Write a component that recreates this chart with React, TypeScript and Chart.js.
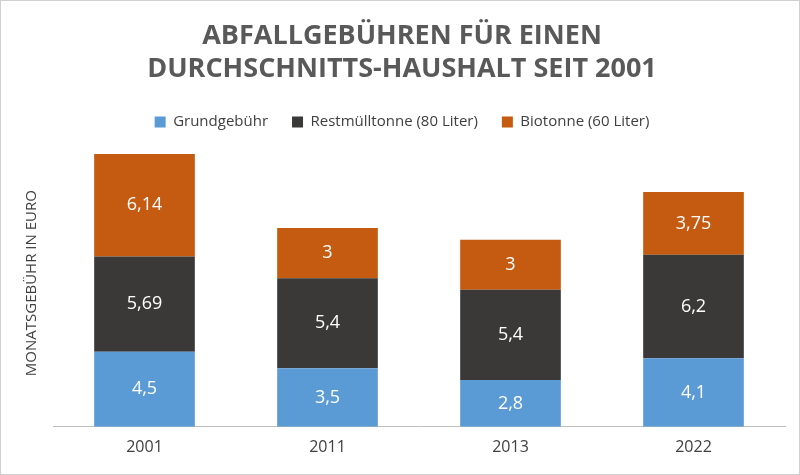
import React, { useEffect, useRef } from "react";
import { Chart, registerables } from "chart.js";
Chart.register(...registerables);

const categories = ["2001", "2011", "2013", "2022"];
const grund = [4.5, 3.5, 2.8, 4.1];
const rest = [5.69, 5.4, 5.4, 6.2];
const bio = [6.14, 3, 3, 3.75];
const seriesNames = ["Grundgebühr", "Restmülltonne (80 Liter)", "Biotonne (60 Liter)"];
const colors = ["#5B9BD5", "#3B3838", "#C55A11"];

const labelPlugin = {
  id: "labels",
  afterDatasetsDraw(chart: any) {
    const ctx = chart.ctx;
    ctx.save();
    ctx.fillStyle = "#fff";
    ctx.font = "18px 'Open Sans', sans-serif";
    ctx.textAlign = "center";
    ctx.textBaseline = "middle";
    chart.data.datasets.forEach((ds: any, i: number) => {
      chart.getDatasetMeta(i).data.forEach((el: any, j: number) => {
        const { x, y, base } = el.getProps(["x", "y", "base"], true);
        ctx.fillText(String(ds.data[j]).replace(".", ","), x, (y + base) / 2);
      });
    });
    ctx.restore();
  },
};

export default function App() {
  const ref = useRef<HTMLCanvasElement>(null);
  useEffect(() => {
    document.body.style.margin = "0";
    const chart = new Chart(ref.current!, {
      type: "bar",
      data: {
        labels: categories,
        datasets: [grund, rest, bio].map((d, i) => ({
          label: seriesNames[i],
          data: d,
          backgroundColor: colors[i],
          barPercentage: 0.55,
          categoryPercentage: 1,
        })),
      },
      options: {
        animation: false,
        responsive: false,
        layout: { padding: { left: 18, right: 14, top: 14, bottom: 14 } },
        plugins: {
          title: {
            display: true,
            text: ["ABFALLGEBÜHREN FÜR EINEN", "DURCHSCHNITTS-HAUSHALT SEIT 2001"],
            color: "#595959",
            font: { size: 27, weight: "bold", family: "'Open Sans', sans-serif", lineHeight: 1.25 },
            padding: { top: 4, bottom: 4 },
          },
          legend: {
            labels: {
              color: "#404040",
              font: { size: 15, family: "'Open Sans', sans-serif" },
              boxWidth: 11,
              boxHeight: 11,
              padding: 24,
            },
          },
          tooltip: { enabled: false },
        },
        scales: {
          x: {
            stacked: true,
            grid: { display: false },
            border: { color: "#bfbfbf" },
            ticks: { color: "#404040", font: { size: 16, family: "'Open Sans', sans-serif" } },
          },
          y: {
            stacked: true,
            min: 0,
            max: 17.2,
            grid: { display: false },
            border: { display: false },
            ticks: { display: false },
            title: {
              display: true,
              text: "MONATSGEBÜHR IN EURO",
              color: "#404040",
              font: { size: 15, family: "'Open Sans', sans-serif" },
            },
          },
        },
      },
      plugins: [labelPlugin],
    });
    return () => chart.destroy();
  }, []);
  return (
    <div style={{ position: "fixed", left: 0, top: 0, width: 800, height: 475, boxSizing: "border-box", border: "1px solid #d0d0d0", background: "#fff" }}>
      <canvas ref={ref} width={798} height={473} />
    </div>
  );
}
